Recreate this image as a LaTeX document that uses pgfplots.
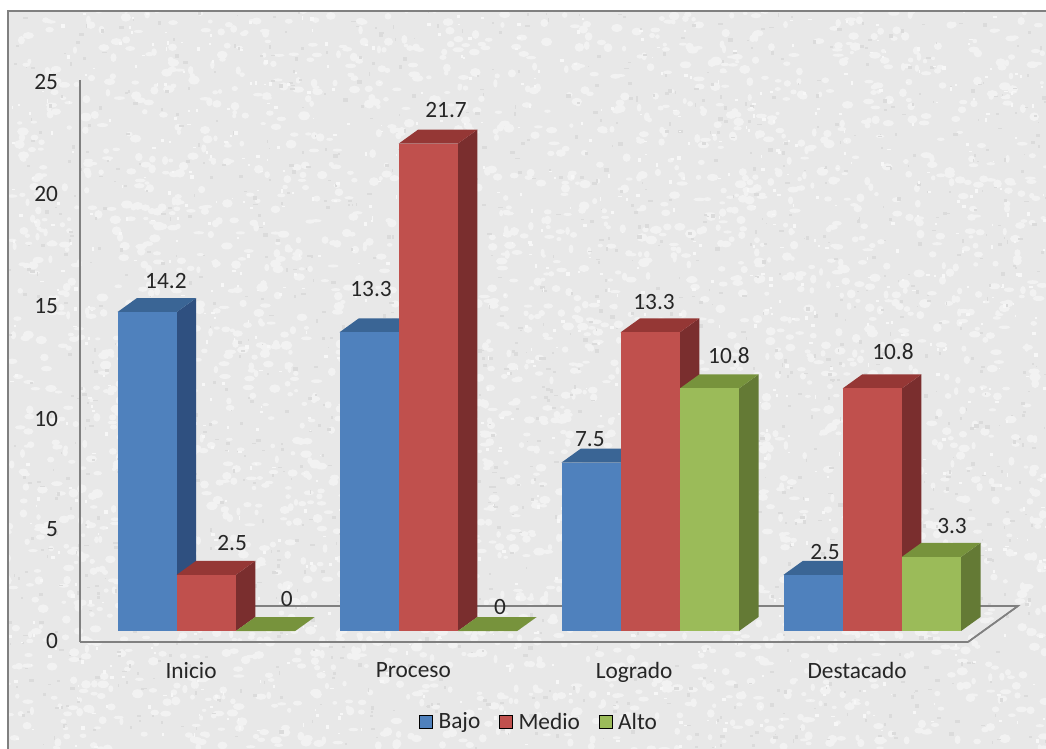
\documentclass[border=0pt]{standalone}
\usepackage{fontspec}
\setmainfont{Carlito}
\usepackage{pgfplots}
\pgfplotsset{compat=1.18}

\definecolor{bluef}{HTML}{4F81BD}\definecolor{bluet}{HTML}{3A6595}\definecolor{blues}{HTML}{2F5080}
\definecolor{redf}{HTML}{C0504D}\definecolor{redt}{HTML}{953735}\definecolor{reds}{HTML}{7A2E2E}
\definecolor{greenf}{HTML}{9BBB59}\definecolor{greent}{HTML}{77933C}\definecolor{greens}{HTML}{647A35}
\definecolor{framecol}{HTML}{808080}

% one bar: x start, value, front/top/side colours
\newcommand{\onebar}[5]{%
  \pgfmathsetmacro{\xa}{#1}\pgfmathsetmacro{\xb}{#1+0.2667}%
  \addplot3[fill=#5,draw=none,forget plot] coordinates {(\xb,0.306,0) (\xb,0.694,0) (\xb,0.694,#2) (\xb,0.306,#2)};
  \addplot3[fill=#4,draw=none,forget plot] coordinates {(\xa,0.306,#2) (\xb,0.306,#2) (\xb,0.694,#2) (\xa,0.694,#2)};
  \addplot3[fill=#3,draw=none,forget plot] coordinates {(\xa,0.306,0) (\xb,0.306,0) (\xb,0.306,#2) (\xa,0.306,#2)};
}

\pgfplotstableread{
x y z lab
0.387 0 16.07 14.2
0.685 0 4.41 2.5
0.932 0 1.91 0
1.311 0 15.72 13.3
1.649 0 23.69 21.7
1.892 0 1.56 0
2.297 0 9.04 7.5
2.586 0 15.14 13.3
2.923 0 12.73 10.8
3.356 0 4.01 2.5
3.662 0 12.91 10.8
3.928 0 5.16 3.3
}\labeltable

\begin{document}
\begin{tikzpicture}[x=0.75pt,y=0.75pt]
% page and textured panel (y measured up from the page bottom)
\path[use as bounding box] (0,0) rectangle (1046,749);
\fill[white] (0,0) rectangle (1046,749);
\begin{scope}
  \clip (8,0) rectangle (1046,738);
  \fill[black!9] (0,0) rectangle (1046,749);
  \pgfmathsetseed{7}
  \foreach \i in {1,...,3200} {\fill[black!5] (rnd*1046,rnd*749) ellipse ({2+rnd*4} and {1.5+rnd*3});}
  \foreach \i in {1,...,1400} {\fill[black!14] (rnd*1046,rnd*749) rectangle ++({1+rnd*4},{1+rnd*3});}
  \foreach \i in {1,...,1000} {\fill[black!3] (rnd*1046,rnd*749) rectangle ++({1+rnd*3},{1+rnd*3});}
\end{scope}
\draw[framecol,line width=1.5pt] (8,0) -- (8,738) -- (1046,738);

\begin{axis}[
    at={(60pt,80.25pt)}, anchor=origin,
    x={(166.5pt,0pt)}, y={(37.5pt,27pt)}, z={(0pt,16.845pt)},
    xmin=0, xmax=4, ymin=0, ymax=1, zmin=0, zmax=25,
    clip=false,
    axis lines=left,
    axis line style={framecol,line width=1.2pt,-},
    xtick={0.5,1.5,2.5,3.5},
    xticklabels={Inicio,Proceso,Logrado,Destacado},
    ytick=\empty,
    ztick={0,5,10,15,20,25},
    major tick length=0pt,
    tick label style={font=\fontsize{17.5}{19}\selectfont,text=black!85},
    /pgf/number format/assume math mode=true,
    xticklabel style={yshift=-12pt,xshift=5pt},
    zticklabel style={xshift=-13pt,yshift=3pt},
    legend columns=3,
    legend cell align=left,
    legend style={at={(axis cs:2.069,0,-3.56)},anchor=center,draw=none,fill=none,
      font=\fontsize{17.5}{19}\selectfont,text=black!85,
      /tikz/every even column/.append style={column sep=12pt},
      /tikz/every odd column/.append style={column sep=2.25pt}},
    legend image code/.code={\fill[#1] (0pt,-5pt) rectangle (10pt,5pt);},
]
% floor edges
\addplot3[framecol,line width=1.2pt,forget plot] coordinates {(0,1,0) (4,1,0) (4,0,0)};

% Inicio
\onebar{0.1}{14.2}{bluef}{bluet}{blues}
\onebar{0.3667}{2.5}{redf}{redt}{reds}
\onebar{0.6333}{0}{greenf}{greent}{greens}
% Proceso
\onebar{1.1}{13.3}{bluef}{bluet}{blues}
\onebar{1.3667}{21.7}{redf}{redt}{reds}
\onebar{1.6333}{0}{greenf}{greent}{greens}
% Logrado
\onebar{2.1}{7.5}{bluef}{bluet}{blues}
\onebar{2.3667}{13.3}{redf}{redt}{reds}
\onebar{2.6333}{10.8}{greenf}{greent}{greens}
% Destacado
\onebar{3.1}{2.5}{bluef}{bluet}{blues}
\onebar{3.3667}{10.8}{redf}{redt}{reds}
\onebar{3.6333}{3.3}{greenf}{greent}{greens}

% data labels, each where the chart has it
\addplot3[only marks,mark=none,forget plot,point meta=explicit symbolic,
    nodes near coords,
    nodes near coords style={anchor=center,font=\fontsize{17.5}{19}\selectfont,text=black!85}]
  table[x=x,y=y,z=z,meta=lab] {\labeltable};

\addlegendimage{fill=bluef}\addlegendentry{Bajo}
\addlegendimage{fill=redf}\addlegendentry{Medio}
\addlegendimage{fill=greenf}\addlegendentry{Alto}
\end{axis}
\end{tikzpicture}
\end{document}
